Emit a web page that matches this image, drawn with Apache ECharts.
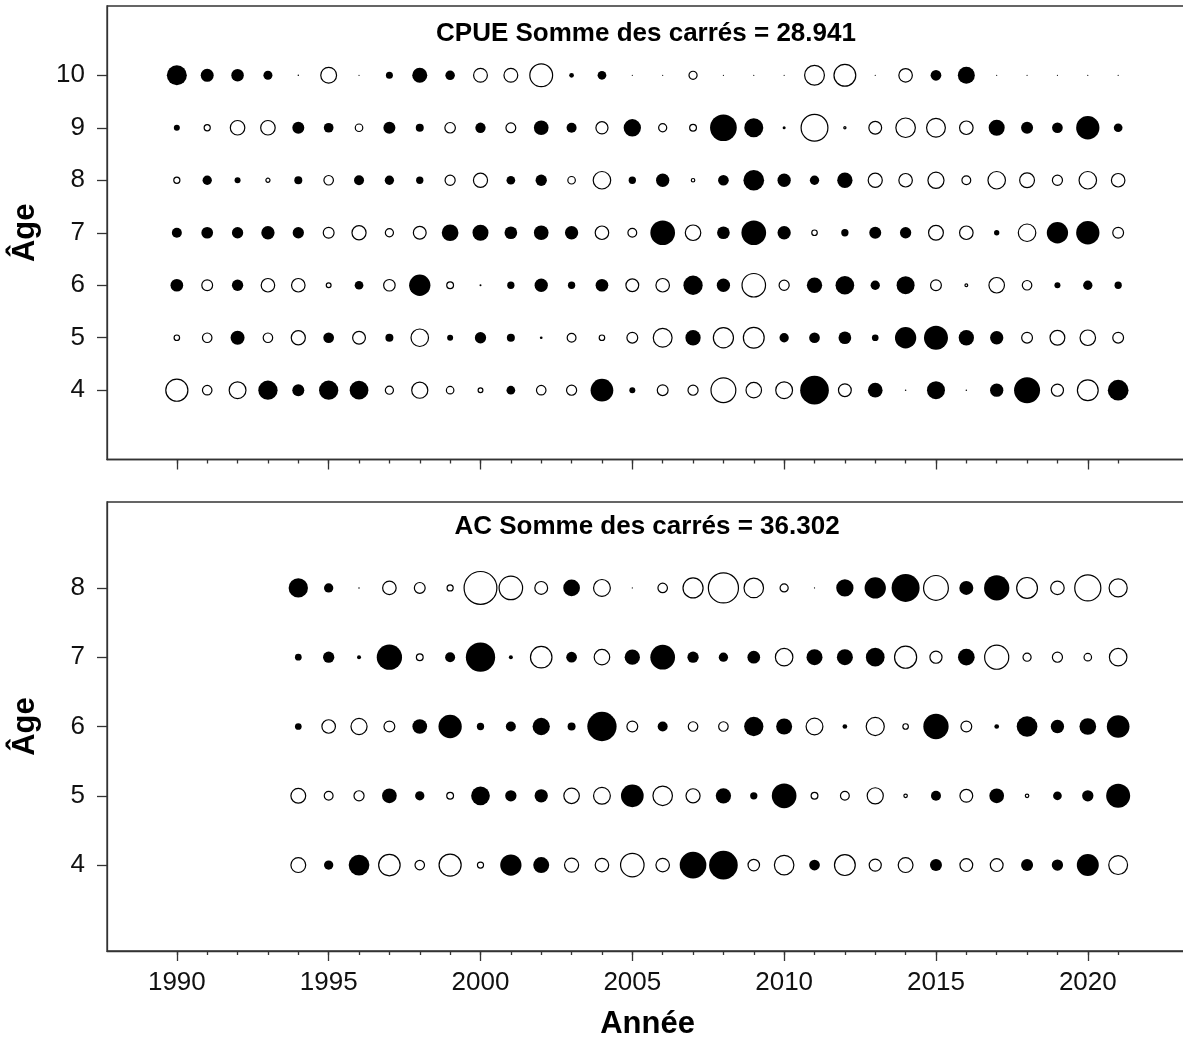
<!DOCTYPE html>
<html>
<head>
<meta charset="utf-8">
<script src="https://cdn.jsdelivr.net/npm/echarts@6/dist/echarts.min.js"></script>
<style>
  html, body { margin: 0; padding: 0; background: #fff; overflow: hidden; }
  /* the plot frame runs a few pixels past the right edge of the page */
  #chart { width: 1196px; height: 1041px; }
</style>
</head>
<body>
<div id="chart"></div>
<script>
// Résidus du modèle par âge et par année (signe : plein = positif, vide = négatif)
const yearsCPUE = [1990, 1991, 1992, 1993, 1994, 1995, 1996, 1997, 1998, 1999, 2000, 2001, 2002, 2003, 2004, 2005,
                   2006, 2007, 2008, 2009, 2010, 2011, 2012, 2013, 2014, 2015, 2016, 2017, 2018, 2019, 2020, 2021];
const yearsAC = [1994, 1995, 1996, 1997, 1998, 1999, 2000, 2001, 2002, 2003, 2004, 2005, 2006, 2007,
                 2008, 2009, 2010, 2011, 2012, 2013, 2014, 2015, 2016, 2017, 2018, 2019, 2020, 2021];

const agesCPUE = [4, 5, 6, 7, 8, 9, 10];
const agesAC = [4, 5, 6, 7, 8];

// CPUE
const cpueAge4 = [-2.33, -1.07, -1.8, 1.93, 1.2, 1.93, 1.87, -0.93, -1.73, -0.87, -0.6, 0.87, -1.07, -1.13, 2.27, 0.6,
                  -1.2, -1.13, -2.6, -1.67, -1.8, 2.87, -1.4, 1.47, 0.15, 1.8, 0.15, 1.33, 2.6, -1.33, -2.2, 2.07];
const cpueAge5 = [-0.67, -1.07, 1.4, -1.07, -1.53, 1.07, -1.4, 0.8, -1.87, 0.6, 1.13, 0.8, 0.27, -1.0, -0.67, -1.2,
                  -2.0, 1.53, -2.13, -2.2, 0.93, 1.07, 1.27, 0.67, 2.13, 2.4, 1.53, 1.33, -1.2, -1.6, -1.67, -1.2];
const cpueAge6 = [1.27, -1.2, 1.13, -1.47, -1.47, -0.6, 0.87, -1.27, 2.13, -0.8, 0.2, 0.73, 1.33, 0.73, 1.27, -1.4,
                  -1.47, 1.93, 1.33, -2.47, -1.13, 1.53, 1.87, 0.93, 1.8, -1.2, -0.4, -1.67, -1.07, 0.6, 0.93, 0.73];
const cpueAge7 = [1.0, 1.17, 1.13, 1.33, 1.13, -1.2, -1.53, -0.93, -1.4, 1.67, 1.6, 1.27, 1.47, 1.33, -1.47, -1.0,
                  2.47, -1.67, 1.27, 2.47, 1.33, -0.67, 0.73, 1.2, 1.13, -1.6, -1.47, 0.53, -1.87, 2.13, 2.33, -1.2];
const cpueAge8 = [-0.73, 0.93, 0.6, -0.53, 0.8, -1.07, 1.0, 0.93, 0.73, -1.13, -1.53, 0.87, 1.13, -0.87, -1.87, 0.73,
                  1.33, -0.47, 1.07, 2.07, 1.33, 0.93, 1.53, -1.53, -1.47, -1.73, -1.0, -1.87, -1.6, -1.13, -1.87, -1.47];
const cpueAge9 = [0.6, -0.73, -1.57, -1.57, 1.2, 0.97, -0.87, 1.2, 0.8, -1.17, 1.03, -1.1, 1.47, 1.0, -1.33, 1.73,
                  -0.93, -0.8, 2.67, 1.9, 0.3, -2.8, -0.33, -1.4, -2.07, -2.0, -1.47, 1.6, 1.2, 1.07, 2.33, 0.87];
const cpueAge10 = [2.0, 1.3, 1.25, 0.9, 0.15, -1.7, 0.1, 0.7, 1.5, 0.95, -1.5, -1.5, -2.4, 0.47, 0.87, 0.1,
                   0.1, -0.93, 0.1, 0.1, 0.1, -2.1, -2.3, 0.1, -1.47, 1.07, 1.7, 0.1, 0.1, 0.1, 0.1, 0.1];

// AC
const acAge4 = [-1.6, 0.93, 2.07, -2.27, -1.07, -2.33, -0.73, 2.13, 1.6, -1.53, -1.47, -2.47, -1.47, 2.67,
                2.87, -1.27, -2.07, 1.07, -2.2, -1.33, -1.6, 1.2, -1.4, -1.4, 1.2, 1.13, 2.2, -2.0];
const acAge5 = [-1.6, -1.0, -1.13, 1.47, 0.93, -0.8, 1.87, 1.13, 1.33, -1.67, -1.8, 2.27, -2.07, -1.53,
                1.53, 0.73, 2.47, -0.8, -1.0, -1.73, -0.47, 1.0, -1.4, 1.47, -0.47, 0.87, 1.13, 2.4];
const acAge6 = [0.67, -1.47, -1.73, -1.2, 1.47, 2.33, 0.73, 1.0, 1.73, 0.8, 2.93, -1.2, 1.0, -1.07,
                -1.07, 1.93, 1.6, -1.8, 0.47, -1.93, -0.67, 2.53, -1.2, 0.47, 2.07, 1.33, 1.67, 2.27];
const acAge7 = [0.67, 1.13, 0.4, 2.53, -0.8, 1.0, 2.93, 0.4, -2.27, 1.07, -1.67, 1.53, 2.47, 1.13,
                0.93, 1.27, -1.87, 1.6, 1.6, 1.87, -2.33, -1.33, 1.67, -2.53, -0.93, -1.13, -0.87, -1.87];
const acAge8 = [1.93, 0.93, 0.15, -1.47, -1.2, -0.73, -3.4, -2.47, -1.4, 1.67, -1.8, 0.1, -1.07, -2.13,
                -3.13, -2.07, -0.93, 0.1, 1.73, 2.13, 2.8, -2.6, 1.4, 2.53, -2.2, -1.47, -2.73, -1.93];

const cpueByAge = [cpueAge4, cpueAge5, cpueAge6, cpueAge7, cpueAge8, cpueAge9, cpueAge10];
const acByAge = [acAge4, acAge5, acAge6, acAge7, acAge8];

// Graduations
const yearTickLabels = [1990, 1995, 2000, 2005, 2010, 2015, 2020];
const yearMinorTicks = yearsCPUE;
const cpueAgeTicks = agesCPUE;
const acAgeTicks = agesAC;

const titleCPUE = 'CPUE Somme des carrés = 28.941';
const titleAC = 'AC Somme des carrés = 36.302';

const FONT = '"Liberation Sans", Arial, Helvetica, sans-serif';
const PX_PER_UNIT = 10;   // diamètre de bulle par unité de résidu
const AXIS_COLOR = '#333';
const X_MIN = 1987.7, X_MAX = 2023.3;

function buildPoints(years, ages, byAge, positive) {
  const out = [];
  ages.forEach((age, a) => {
    byAge[a].forEach((v, i) => {
      if ((v >= 0) === positive) out.push([years[i], age, v]);
    });
  });
  return out;
}

function xAxes(gridIndex, withLabels) {
  const major = {
    type: 'value', gridIndex, min: X_MIN, max: X_MAX, position: 'bottom',
    axisLine: { show: true, onZero: false, lineStyle: { color: AXIS_COLOR, width: 1.3 } },
    axisTick: { show: true, inside: false, length: 10, customValues: yearTickLabels,
                lineStyle: { color: AXIS_COLOR, width: 1.3 } },
    axisLabel: withLabels
      ? { show: true, customValues: yearTickLabels, fontSize: 26, color: '#111', fontFamily: FONT, margin: 19,
          formatter: (v) => String(Math.round(v)) }
      : { show: false },
    splitLine: { show: false }
  };
  if (withLabels) {
    major.name = 'Année';
    major.nameLocation = 'middle';
    major.nameGap = 58;
    major.nameTextStyle = { fontSize: 31, fontWeight: 'bold', color: '#000', fontFamily: FONT };
  }
  const minor = {
    type: 'value', gridIndex, min: X_MIN, max: X_MAX, position: 'bottom',
    axisLine: { show: false, onZero: false },
    axisTick: { show: true, inside: false, length: 4, customValues: yearMinorTicks,
                lineStyle: { color: AXIS_COLOR, width: 1.3 } },
    axisLabel: { show: false },
    splitLine: { show: false }
  };
  return [major, minor];
}

function yAxis(gridIndex, min, max, ticks) {
  return {
    type: 'value', gridIndex, min, max, position: 'left',
    axisLine: { show: true, onZero: false, lineStyle: { color: AXIS_COLOR, width: 1.3 } },
    axisTick: { show: true, inside: false, length: 10, customValues: ticks,
                lineStyle: { color: AXIS_COLOR, width: 1.3 } },
    axisLabel: { show: true, customValues: ticks, fontSize: 26, color: '#111', fontFamily: FONT, margin: 22,
                 formatter: (v) => String(Math.round(v)) },
    splitLine: { show: false },
    name: 'Âge', nameLocation: 'middle', nameRotate: 90, nameGap: 66,
    nameTextStyle: { fontSize: 31, fontWeight: 'bold', color: '#000', fontFamily: FONT }
  };
}

function bubbleSeries(xi, yi, data, filled) {
  return {
    type: 'scatter', xAxisIndex: xi, yAxisIndex: yi, data,
    symbol: 'circle',
    symbolSize: (val) => Math.max(filled ? 1.2 : 0.5, Math.abs(val[2]) * PX_PER_UNIT - (filled ? 0 : 1.2)),
    itemStyle: filled
      ? { color: '#000', borderWidth: 0, opacity: 1 }
      : { color: '#fff', borderColor: '#000', borderWidth: 1.2, opacity: 1 },
    emphasis: { disabled: true },
    silent: true,
    animation: false
  };
}

const chart = echarts.init(document.getElementById('chart'), null, { renderer: 'canvas' });

chart.setOption({
  backgroundColor: '#fff',
  animation: false,
  textStyle: { fontFamily: FONT },
  grid: [
    { left: 107, top: 6, width: 1081, height: 453.5, show: true, borderColor: AXIS_COLOR, borderWidth: 1.3,
      backgroundColor: 'transparent', containLabel: false },
    { left: 107, top: 502, width: 1081, height: 453, show: true, borderColor: AXIS_COLOR, borderWidth: 1.3,
      backgroundColor: 'transparent', containLabel: false }
  ],
  xAxis: [...xAxes(0, false), ...xAxes(1, true)],
  yAxis: [
    yAxis(0, 2.68, 11.32, cpueAgeTicks),
    yAxis(1, 2.76, 9.24, acAgeTicks)
  ],
  graphic: [
    { type: 'text', x: 646, y: 34, silent: true,
      style: { text: titleCPUE, fill: '#000', font: 'bold 26px ' + FONT,
               textAlign: 'center', textVerticalAlign: 'middle' } },
    { type: 'text', x: 647, y: 527, silent: true,
      style: { text: titleAC, fill: '#000', font: 'bold 26px ' + FONT,
               textAlign: 'center', textVerticalAlign: 'middle' } }
  ],
  series: [
    bubbleSeries(0, 0, buildPoints(yearsCPUE, agesCPUE, cpueByAge, false), false),
    bubbleSeries(0, 0, buildPoints(yearsCPUE, agesCPUE, cpueByAge, true), true),
    bubbleSeries(2, 1, buildPoints(yearsAC, agesAC, acByAge, false), false),
    bubbleSeries(2, 1, buildPoints(yearsAC, agesAC, acByAge, true), true)
  ]
});
</script>
</body>
</html>
